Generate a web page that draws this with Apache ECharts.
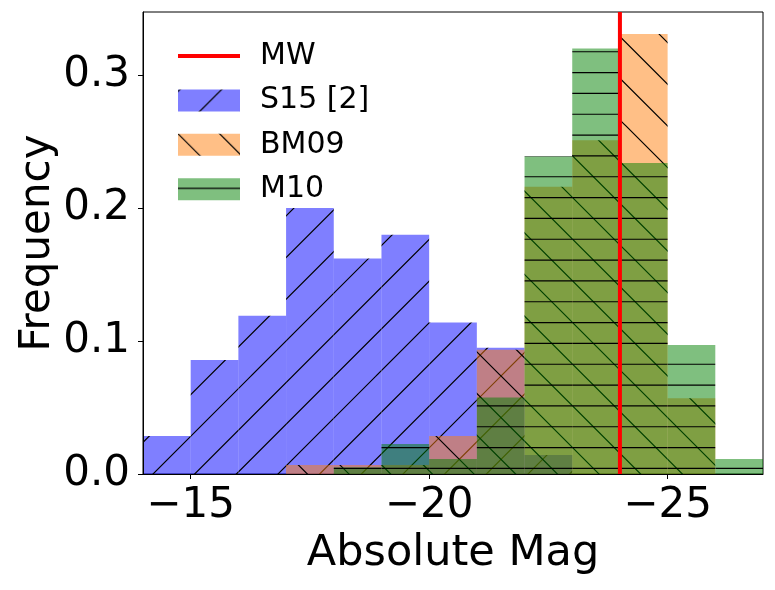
<!DOCTYPE html>
<html>
<head>
<meta charset="utf-8">
<script src="https://cdn.jsdelivr.net/npm/echarts@6/dist/echarts.min.js"></script>
<style>
  html, body { margin: 0; padding: 0; background: #fff; }
  #chart { width: 775px; height: 590px; }
</style>
</head>
<body>
<div id="chart"></div>
<script>
// bin edges (1 mag wide), from -14 down to -27
var binEdges = [-14, -15, -16, -17, -18, -19, -20, -21, -22, -23, -24, -25, -26, -27];
// frequencies per bin
var s15 = [0.0286, 0.0857, 0.119, 0.200, 0.162, 0.180, 0.114, 0.095, 0.0143, 0, 0, 0, 0];
var bm09 = [0, 0, 0, 0.0068, 0.0068, 0.0068, 0.0286, 0.0935, 0.216, 0.251, 0.331, 0.057, 0];
var m10 = [0, 0, 0, 0, 0.005, 0.0226, 0.0113, 0.0576, 0.239, 0.320, 0.234, 0.097, 0.0113];
var mwMag = -24.0;
var xTicks = [-15, -20, -25];
var yTicks = [0, 0.1, 0.2, 0.3];
var yMax = 0.3475;

var FONT = 'DejaVu Sans';

// hatch tiles: semi transparent fill + black lines
function makeHatch(fill, kind) {
    var n = 125;
    var c = document.createElement('canvas');
    c.width = n; c.height = n;
    var ctx = c.getContext('2d');
    ctx.fillStyle = fill;
    ctx.fillRect(0, 0, n, n);
    ctx.strokeStyle = '#000';
    ctx.lineWidth = 1.2;
    ctx.beginPath();
    var step = n / 3;
    var k, v;
    if (kind === '/') {
        for (k = -2; k <= 8; k++) {
            v = 2 + k * step;
            ctx.moveTo(v + 10, -10);
            ctx.lineTo(v - n - 10, n + 10);
        }
    } else if (kind === '\\') {
        for (k = -5; k <= 5; k++) {
            v = k * step;
            ctx.moveTo(v - 10, -10);
            ctx.lineTo(v + n + 10, n + 10);
        }
    } else {
        for (k = 0; k < 6; k++) {
            v = 10.1 + k * (n / 6);
            ctx.moveTo(0, v);
            ctx.lineTo(n, v);
        }
    }
    ctx.stroke();
    return { image: c, repeat: 'repeat' };
}

var hatchS15 = makeHatch('rgba(0,0,255,0.5)', '/');
var hatchBM09 = makeHatch('rgba(255,127,14,0.5)', '\\');
var hatchM10 = makeHatch('rgba(0,128,0,0.5)', '-');

function toBins(vals) {
    var out = [];
    for (var i = 0; i < vals.length; i++) {
        out.push([binEdges[i], binEdges[i + 1], vals[i]]);
    }
    return out;
}

function histSeries(name, vals, pattern) {
    return {
        name: name,
        type: 'custom',
        itemStyle: { color: pattern },
        encode: { x: [0, 1], y: 2 },
        data: toBins(vals),
        renderItem: function (params, api) {
            var h = api.value(2);
            if (!h) return null;
            var p0 = api.coord([api.value(0), 0]);
            var p1 = api.coord([api.value(1), h]);
            return {
                type: 'rect',
                shape: {
                    x: Math.min(p0[0], p1[0]),
                    y: p1[1],
                    width: Math.abs(p1[0] - p0[0]),
                    height: p0[1] - p1[1]
                },
                style: { fill: pattern }
            };
        },
        emphasis: { disabled: true },
        z: 2
    };
}

var dom = document.getElementById('chart');
var myChart = echarts.init(dom, null, { renderer: 'canvas' });

var option = {
    animation: false,
    backgroundColor: '#fff',
    textStyle: { fontFamily: FONT },
    grid: {
        left: 143, top: 12, width: 620, height: 462,
        show: true, borderColor: '#000', borderWidth: 1,
        backgroundColor: 'transparent'
    },
    legend: {
        left: 171, top: 36,
        orient: 'vertical',
        itemWidth: 62, itemHeight: 22, itemGap: 14.4,
        textStyle: { fontFamily: FONT, fontSize: 30, color: '#000', padding: [0, 0, 0, 15] },
        data: [
            { name: 'MW', lineStyle: { width: 4, color: '#ff0000' }, itemStyle: { opacity: 0 } },
            { name: 'S15 [2]', icon: 'rect' },
            { name: 'BM09', icon: 'rect' },
            { name: 'M10', icon: 'rect' }
        ]
    },
    xAxis: {
        type: 'value',
        min: -27, max: -14,
        inverse: true,
        z: 5,
        name: 'Absolute Mag',
        nameLocation: 'middle',
        nameGap: 58,
        nameMoveOverlap: false,
        nameTextStyle: { fontFamily: FONT, fontSize: 43, color: '#000' },
        axisLine: { show: true, onZero: false, lineStyle: { color: '#000', width: 1 } },
        axisTick: { show: true, length: 5, customValues: xTicks, lineStyle: { color: '#000' } },
        axisLabel: {
            customValues: xTicks,
            margin: 11,
            fontFamily: FONT, fontSize: 42, color: '#000',
            formatter: function (v) { return (v < 0 ? '\u2212' : '') + Math.abs(v); }
        },
        splitLine: { show: false }
    },
    yAxis: {
        type: 'value',
        min: 0, max: yMax,
        z: 5,
        name: 'Frequency',
        nameLocation: 'middle',
        nameGap: 84,
        nameRotate: 90,
        nameMoveOverlap: false,
        nameTextStyle: { fontFamily: FONT, fontSize: 42, color: '#000' },
        axisLine: { show: true, lineStyle: { color: '#000', width: 1 } },
        axisTick: { show: true, length: 5, customValues: yTicks, lineStyle: { color: '#000' } },
        axisLabel: {
            customValues: yTicks,
            margin: 13,
            fontFamily: FONT, fontSize: 42, color: '#000',
            formatter: function (v) { return v.toFixed(1); }
        },
        splitLine: { show: false }
    },
    series: [
        {
            name: 'MW',
            type: 'line',
            data: [[mwMag, 0], [mwMag, yMax]],
            symbol: 'none',
            lineStyle: { color: '#ff0000', width: 4 },
            itemStyle: { color: '#ff0000' },
            emphasis: { disabled: true },
            z: 10
        },
        histSeries('S15 [2]', s15, hatchS15),
        histSeries('BM09', bm09, hatchBM09),
        histSeries('M10', m10, hatchM10)
    ]
};

myChart.setOption(option);
window.addEventListener('resize', myChart.resize);
</script>
</body>
</html>
